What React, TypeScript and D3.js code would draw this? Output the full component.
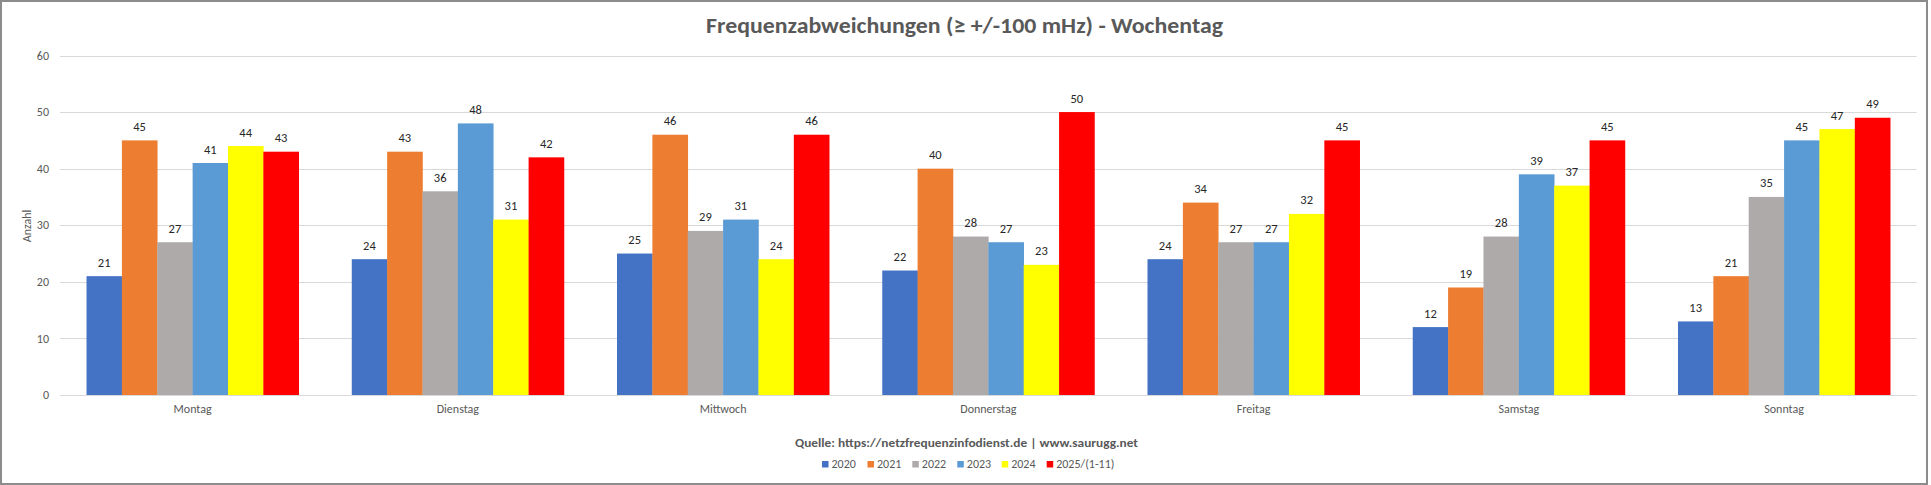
import React from "react";
import * as d3 from "d3";

const categories = ["Montag", "Dienstag", "Mittwoch", "Donnerstag", "Freitag", "Samstag", "Sonntag"];
const seriesNames = ["2020", "2021", "2022", "2023", "2024", "2025/(1-11)"];
const seriesColors = ["#4472C4", "#ED7D31", "#AEAAAA", "#5B9BD5", "#FFFF00", "#FF0000"];
const values2020 = [21, 24, 25, 22, 24, 12, 13];
const values2021 = [45, 43, 46, 40, 34, 19, 21];
const values2022 = [27, 36, 29, 28, 27, 28, 35];
const values2023 = [41, 48, 31, 27, 27, 39, 45];
const values2024 = [44, 31, 24, 23, 32, 37, 47];
const values2025 = [43, 42, 46, 50, 45, 45, 49];
const yTicks = [0, 10, 20, 30, 40, 50, 60];
const title = "Frequenzabweichungen (≥ +/-100 mHz) - Wochentag";
const sourceText = "Quelle: https://netzfrequenzinfodienst.de | www.saurugg.net";
const yTitle = "Anzahl";

const series = [values2020, values2021, values2022, values2023, values2024, values2025];

const W = 1931;
const H = 485;
const FONT = "Carlito, Calibri, Lato, 'Open Sans', sans-serif";
const TXT = "#595959";

export default function App() {
  const x0 = d3.scaleBand<string>().domain(categories).range([60, 1916.7]).paddingInner(0.2).paddingOuter(0.1);
  const x1 = d3.scaleBand<number>().domain(d3.range(series.length)).range([0, x0.bandwidth()]).padding(0);
  const y = d3.scaleLinear().domain([0, 60]).range([395, 55.5]);

  const legendX = [822, 867.5, 912.3, 957.3, 1001.7, 1046.7];

  return (
    <svg width={W} height={H} style={{ position: "absolute", left: 0, top: 0, background: "#fff" }} fontFamily={FONT}>
      <rect x={0} y={0} width={W} height={H} fill="#fff" />
      <rect x={1} y={1} width={1926} height={483} fill="none" stroke="#8c8c8c" strokeWidth={2} />
      {/* gridlines */}
      {yTicks.map((t) => (
        <line key={"g" + t} x1={60} x2={1916.7} y1={Math.round(y(t)) + 0.5} y2={Math.round(y(t)) + 0.5} stroke="#D9D9D9" strokeWidth={1} />
      ))}
      {yTicks.map((t) => (
        <text key={"t" + t} x={49} y={y(t)} dy="0.35em" textAnchor="end" fontSize={12} fill={TXT}>
          {t}
        </text>
      ))}
      <text transform={`translate(27,226) rotate(-90)`} textAnchor="middle" fontSize={12} fill={TXT} dy="0.35em">
        {yTitle}
      </text>
      {/* bars */}
      {categories.map((c, ci) => (
        <g key={c} transform={`translate(${x0(c)},0)`}>
          {series.map((s, si) => (
            <rect key={si} x={x1(si)} y={y(s[ci])} width={x1.bandwidth() + 0.3} height={y(0) - y(s[ci])} fill={seriesColors[si]} />
          ))}
          {series.map((s, si) => (
            <text key={"l" + si} x={(x1(si) as number) + x1.bandwidth() / 2} y={y(s[ci]) - 9.5} textAnchor="middle" fontSize={12.5} fill="#262626">
              {s[ci]}
            </text>
          ))}
        </g>
      ))}
      {/* baseline */}
      <line x1={60} x2={1916.7} y1={Math.round(y(0)) + 0.5} y2={Math.round(y(0)) + 0.5} stroke="#D9D9D9" strokeWidth={1} />
      {categories.map((c) => (
        <text key={"c" + c} x={(x0(c) as number) + x0.bandwidth() / 2} y={413} textAnchor="middle" fontSize={12} fill={TXT}>
          {c}
        </text>
      ))}
      {/* title */}
      <text x={964.5} y={33.3} textAnchor="middle" fontSize={23} fontWeight="bold" fill={TXT} textLength={517} lengthAdjust="spacingAndGlyphs">
        {title}
      </text>
      {/* source */}
      <text x={966.5} y={446.7} textAnchor="middle" fontSize={12.5} fontWeight="bold" fill={TXT} textLength={343} lengthAdjust="spacingAndGlyphs">
        {sourceText}
      </text>
      {/* legend */}
      {seriesNames.map((n, i) => (
        <g key={n} transform={`translate(${legendX[i]},0)`}>
          <rect x={0} y={461} width={6.5} height={6.5} fill={seriesColors[i]} />
          <text x={9.5} y={468} fontSize={12} fill={TXT}>
            {n}
          </text>
        </g>
      ))}
    </svg>
  );
}
